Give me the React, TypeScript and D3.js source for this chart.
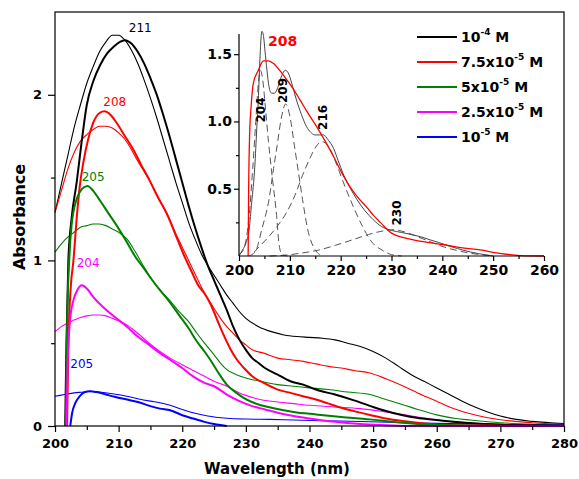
import React from 'react';
import * as d3 from 'd3';

type Pt = [number, number];

// measured spectra (thick) and smoothed spectra (thin), wavelength nm / absorbance
const black4Thick: Pt[] = [[201.6, 0], [201.8, 0.5], [202.1, 1.0], [202.6, 1.25], [203.4, 1.47], [204.2, 1.72], [205, 1.94], [206, 2.08], [207.1, 2.18], [208.2, 2.25], [209.2, 2.29], [210.2, 2.32], [211, 2.33], [212, 2.31], [213, 2.26], [214, 2.19], [215, 2.1], [216, 2.0], [217, 1.88], [218, 1.75], [219, 1.61], [220, 1.47], [221, 1.33], [222, 1.2], [223, 1.08], [224, 0.97], [225, 0.88], [226, 0.79], [227, 0.7], [228, 0.6], [229, 0.52], [230, 0.46], [231, 0.41], [232, 0.38], [233, 0.35], [235, 0.31], [237, 0.27], [239, 0.25], [241, 0.22], [244, 0.19], [247, 0.155], [250, 0.115], [253, 0.08], [256, 0.055], [260, 0.036], [265, 0.018], [270, 0.008], [275, 0.004], [280, 0.002]];
const black4Thin: Pt[] = [[200, 1.29], [201, 1.46], [202, 1.63], [203, 1.8], [204, 1.94], [205, 2.07], [206, 2.17], [207, 2.26], [208, 2.32], [209, 2.36], [210, 2.36], [211, 2.33], [212, 2.27], [213, 2.19], [214, 2.09], [215, 1.98], [216, 1.86], [217, 1.73], [218, 1.6], [219, 1.47], [220, 1.35], [221, 1.23], [222, 1.13], [223, 1.04], [224, 0.97], [225, 0.91], [226, 0.85], [227, 0.79], [228, 0.74], [229, 0.69], [230, 0.65], [232, 0.6], [234, 0.57], [236, 0.55], [238, 0.54], [240, 0.535], [242, 0.53], [244, 0.52], [246, 0.5], [248, 0.48], [250, 0.45], [252, 0.41], [254, 0.36], [256, 0.31], [258, 0.27], [260, 0.23], [262, 0.19], [264, 0.15], [266, 0.115], [268, 0.085], [270, 0.06], [272, 0.043], [275, 0.028], [280, 0.015]];

const red75Thick: Pt[] = [[201.9, 0], [202.1, 0.5], [202.5, 0.85], [202.9, 1.0], [203.4, 1.25], [203.9, 1.45], [204.5, 1.6], [205.2, 1.73], [206, 1.83], [207, 1.89], [207.8, 1.9], [208.7, 1.88], [209.7, 1.83], [211, 1.75], [212.3, 1.67], [213.5, 1.58], [214.9, 1.48], [216.2, 1.38], [217.6, 1.28], [219, 1.15], [220.4, 1.02], [221.5, 0.93], [222.5, 0.85], [223.5, 0.8], [224.4, 0.74], [225.5, 0.64], [226.5, 0.55], [227.5, 0.47], [228.6, 0.4], [229.7, 0.35], [231, 0.3], [232.8, 0.26], [235, 0.22], [237, 0.2], [239, 0.18], [241, 0.16], [243, 0.135], [245, 0.11], [247, 0.09], [249.5, 0.067], [252, 0.045], [255, 0.028], [258, 0.015], [262, 0.006], [270, 0.002], [280, 0]];
const red75Thin: Pt[] = [[200, 1.29], [201, 1.42], [202, 1.55], [203, 1.65], [204, 1.72], [205, 1.76], [206, 1.79], [207, 1.81], [208, 1.81], [209, 1.8], [210, 1.77], [211, 1.73], [212, 1.67], [213, 1.6], [214.9, 1.48], [216.2, 1.38], [217.6, 1.28], [219, 1.16], [220, 1.08], [221, 1.0], [222, 0.92], [223, 0.84], [224, 0.77], [225, 0.71], [226, 0.65], [227, 0.6], [228, 0.56], [229, 0.52], [230, 0.49], [231, 0.46], [232.8, 0.44], [235, 0.41], [237, 0.4], [239, 0.39], [241, 0.375], [243, 0.36], [245, 0.35], [247, 0.335], [249.5, 0.32], [252, 0.285], [254.8, 0.24], [257, 0.2], [260, 0.15], [262, 0.115], [265, 0.077], [268, 0.05], [270.4, 0.036], [275, 0.02], [280, 0.01]];

const green5Thick: Pt[] = [[201.7, 0], [201.9, 0.6], [202.3, 1.05], [202.6, 1.21], [203.4, 1.37], [204.2, 1.43], [205.1, 1.45], [206, 1.42], [207.1, 1.36], [208.3, 1.29], [209.7, 1.21], [211.3, 1.11], [212.5, 1.03], [214, 0.95], [215.3, 0.88], [216.5, 0.82], [218, 0.75], [219.5, 0.67], [221, 0.59], [222.3, 0.51], [223.5, 0.45], [224.4, 0.4], [225.7, 0.32], [227, 0.25], [228.5, 0.2], [230.1, 0.16], [232, 0.13], [234, 0.11], [237.5, 0.085], [241, 0.07], [245, 0.055], [249.5, 0.04], [253, 0.025], [257, 0.012], [262, 0.004], [270, 0], [280, 0]];
const green5Thin: Pt[] = [[200, 1.05], [201, 1.1], [202, 1.14], [203, 1.17], [204, 1.2], [205, 1.21], [206, 1.22], [207, 1.22], [208, 1.21], [209, 1.19], [210, 1.17], [211.3, 1.13], [212.5, 1.06], [214, 0.96], [215.3, 0.88], [216.5, 0.82], [218, 0.76], [219.5, 0.69], [221, 0.63], [222.3, 0.56], [223.5, 0.5], [225, 0.43], [226, 0.38], [227, 0.34], [228.5, 0.31], [230, 0.29], [232.2, 0.27], [235, 0.25], [237.5, 0.24], [240, 0.23], [243, 0.22], [246, 0.205], [249.5, 0.19], [252, 0.16], [254.8, 0.127], [257, 0.1], [260, 0.067], [263, 0.045], [265.3, 0.036], [270, 0.02], [275, 0.01], [280, 0.005]];

const magenta25Thick: Pt[] = [[201.8, 0], [202, 0.4], [202.4, 0.65], [202.9, 0.76], [203.5, 0.82], [204.2, 0.85], [205, 0.83], [206, 0.78], [207.5, 0.72], [209, 0.67], [211.3, 0.6], [213, 0.54], [214.8, 0.49], [216.5, 0.44], [218.1, 0.4], [220, 0.35], [221.7, 0.3], [223.5, 0.26], [225, 0.24], [227, 0.19], [229, 0.15], [231, 0.12], [233, 0.1], [235, 0.08], [237.5, 0.06], [240, 0.045], [244, 0.025], [248, 0.012], [252, 0.005], [256, 0], [280, 0]];
const magenta25Thin: Pt[] = [[200, 0.57], [201, 0.6], [202, 0.62], [203, 0.64], [204, 0.655], [205, 0.665], [206, 0.67], [207, 0.67], [208, 0.665], [209, 0.65], [210, 0.635], [211.3, 0.61], [213, 0.56], [214.8, 0.5], [216.5, 0.45], [218.1, 0.41], [220, 0.37], [221.7, 0.335], [223.5, 0.3], [225, 0.27], [227, 0.24], [229, 0.2], [230, 0.185], [232.2, 0.16], [235, 0.145], [237.5, 0.135], [240, 0.125], [244, 0.115], [248, 0.105], [252, 0.085], [255, 0.068], [258, 0.048], [260, 0.036], [265, 0.02], [270, 0.01], [280, 0.004]];

const blue1Thick: Pt[] = [[202.4, 0], [202.7, 0.08], [203.2, 0.14], [203.9, 0.18], [204.7, 0.205], [205.5, 0.21], [206.5, 0.205], [208, 0.19], [209.5, 0.175], [211.3, 0.16], [213, 0.145], [215, 0.12], [216.5, 0.105], [218.1, 0.095], [220, 0.065], [221.7, 0.045], [223.5, 0.025], [225, 0.012], [226.5, 0.003], [227, 0]];
const blue1Thin: Pt[] = [[200, 0.18], [201.5, 0.19], [203, 0.2], [204.5, 0.205], [205.5, 0.21], [207, 0.205], [209, 0.195], [211.3, 0.18], [213, 0.165], [215, 0.15], [216.5, 0.14], [218.1, 0.125], [220, 0.1], [221.7, 0.08], [224, 0.06], [227, 0.047], [230, 0.042], [233.8, 0.04], [237.5, 0.036], [242, 0.032], [249.5, 0.026], [255, 0.02], [260, 0.016], [265, 0.013], [270, 0.01], [275, 0.008], [280, 0.006]];

// inset: 7.5x10^-5 M spectrum, its envelope and the fitted bands
const insetEnvelope: Pt[] = [[200, 0], [200.7, 0.045], [201.4, 0.1], [202, 0.2], [202.5, 0.4], [203.1, 0.66], [203.5, 0.95], [203.8, 1.16], [204.1, 1.45], [204.5, 1.67], [204.8, 1.64], [205.1, 1.53], [205.5, 1.38], [205.9, 1.26], [206.4, 1.21], [207, 1.21], [207.7, 1.26], [208.4, 1.34], [209.1, 1.38], [209.7, 1.36], [210.4, 1.28], [211.3, 1.16], [212.3, 1.05], [213.3, 0.96], [214.1, 0.92], [214.9, 0.9], [215.8, 0.9], [216.6, 0.9], [217.6, 0.86], [218.6, 0.8], [219.5, 0.71], [220.5, 0.61], [221.8, 0.51], [223.2, 0.42], [224.7, 0.34], [226.4, 0.27], [228, 0.22], [230, 0.19], [232, 0.175], [234.3, 0.156], [236, 0.14], [237.6, 0.12], [239.3, 0.1], [240.9, 0.08], [243, 0.055], [245.5, 0.03], [248.8, 0.007], [250, 0]];
const insetSpectrum: Pt[] = [[201.8, 0], [201.9, 0.5], [202.1, 0.91], [202.4, 1.12], [202.8, 1.28], [203.8, 1.38], [204.8, 1.45], [205.8, 1.45], [206.8, 1.43], [208, 1.38], [209.4, 1.31], [210.7, 1.24], [212, 1.16], [213.6, 1.06], [215.3, 0.96], [217, 0.85], [218.6, 0.74], [220.2, 0.62], [221.9, 0.51], [223.5, 0.43], [225.2, 0.36], [226.5, 0.3], [227.8, 0.25], [230, 0.17], [232, 0.14], [234.3, 0.12], [237.5, 0.1], [240.9, 0.08], [244, 0.06], [247.4, 0.045], [251, 0.022], [255.3, 0.003], [260, 0]];
const band204: Pt[] = [[200, 0.01], [201, 0.06], [202, 0.3], [202.7, 0.65], [203.3, 1.0], [203.8, 1.28], [204.2, 1.38], [204.7, 1.3], [205.2, 1.1], [205.8, 0.85], [206.5, 0.6], [207.4, 0.3], [207.9, 0.08], [208.5, 0.01], [209.5, 0]];
const band209: Pt[] = [[202, 0], [203.3, 0.04], [204.5, 0.2], [205.9, 0.42], [206.8, 0.65], [207.5, 0.82], [208.3, 1.02], [209.2, 1.13], [210.1, 1.02], [210.9, 0.82], [211.7, 0.62], [212.5, 0.42], [213.5, 0.2], [215.1, 0.04], [216.5, 0]];
const band216: Pt[] = [[203, 0.03], [204, 0.07], [206, 0.15], [207.5, 0.22], [209.3, 0.32], [211, 0.45], [212.5, 0.6], [214, 0.73], [215.1, 0.81], [216.3, 0.85], [217.5, 0.82], [219, 0.7], [220.4, 0.56], [222, 0.41], [224.3, 0.22], [226, 0.11], [228.3, 0.04], [230, 0.01], [232, 0]];
const band230: Pt[] = [[206, 0], [209.3, 0.007], [212, 0.02], [215.8, 0.045], [219, 0.08], [222.3, 0.12], [225.5, 0.16], [228.9, 0.19], [230.5, 0.195], [232.5, 0.18], [235, 0.145], [237.6, 0.106], [240.5, 0.065], [243, 0.04], [245.5, 0.02], [248, 0.008], [250, 0]];

const xTicks = [200, 210, 220, 230, 240, 250, 260, 270, 280];
const xMinor = [205, 215, 225, 235, 245, 255, 265, 275];
const yTicks = [0, 1, 2];
const yMinor = [0.5, 1.5];
const insetXTicks = [200, 210, 220, 230, 240, 250, 260];
const insetXMinor = [205, 215, 225, 235, 245, 255];
const insetYTicks = [0.5, 1.0, 1.5];
const insetYMinor = [0.25, 0.75, 1.25];

const legendBase = ['10', '7.5x10', '5x10', '2.5x10', '10'];
const legendExp = ['-4', '-5', '-5', '-5', '-5'];
const colors = ['#000000', '#ff0000', '#008000', '#ff00ff', '#0000ff'];

const peakLabels = ['211', '208', '205', '204', '205'];
const peakAt: Pt[] = [[213.4, 2.38], [209.4, 1.93], [206, 1.48], [205.2, 0.96], [204.2, 0.35]];
const bandLabels = ['204', '209', '216', '230'];
const bandAt: Pt[] = [[204.3, 1.085], [208.7, 1.23], [216.5, 1.03], [231.1, 0.32]];

const font = 'DejaVu Sans, Verdana, sans-serif';

const App = () => {
  const ref = React.useRef<SVGSVGElement>(null);

  React.useEffect(() => {
    const svg = d3.select(ref.current);
    svg.selectAll('*').remove();

    const x = d3.scaleLinear().domain([200, 280]).range([55, 564]);
    const y = d3.scaleLinear().domain([0, 2.5]).range([426, 12]);

    const line = d3
      .line<Pt>()
      .x((d) => x(d[0]))
      .y((d) => y(d[1]))
      .curve(d3.curveMonotoneX);

    const thin = [black4Thin, red75Thin, green5Thin, magenta25Thin, blue1Thin];
    const thick = [black4Thick, red75Thick, green5Thick, magenta25Thick, blue1Thick];

    const curves = svg.append('g').attr('fill', 'none');
    thin.forEach((s, i) => {
      curves.append('path').attr('d', line(s)).attr('stroke', colors[i]).attr('stroke-width', 1.1);
    });
    thick.forEach((s, i) => {
      curves.append('path').attr('d', line(s)).attr('stroke', colors[i]).attr('stroke-width', 2);
    });

    // frame
    svg
      .append('rect')
      .attr('x', 55)
      .attr('y', 12)
      .attr('width', 509)
      .attr('height', 414)
      .attr('fill', 'none')
      .attr('stroke', '#000')
      .attr('stroke-width', 1.2);

    const styleAxis = (g: any, size: number) => {
      g.attr('font-family', font).attr('font-size', size).attr('font-weight', 'bold');
      g.select('.domain').remove();
      g.selectAll('line').attr('stroke', '#000').attr('stroke-width', 1.2);
      g.selectAll('text').attr('fill', '#000');
    };

    svg
      .append('g')
      .attr('transform', 'translate(0,426)')
      .call(d3.axisBottom(x).tickValues(xTicks).tickSize(6).tickPadding(7).tickFormat(d3.format('d')))
      .call((g) => styleAxis(g, 13));
    svg
      .append('g')
      .attr('transform', 'translate(0,426)')
      .call(d3.axisBottom(x).tickValues(xMinor).tickSize(4).tickFormat(() => ''))
      .call((g) => styleAxis(g, 13));
    svg
      .append('g')
      .attr('transform', 'translate(55,0)')
      .call(d3.axisLeft(y).tickValues(yTicks).tickSize(7).tickPadding(6).tickFormat(d3.format('d')))
      .call((g) => styleAxis(g, 13));
    svg
      .append('g')
      .attr('transform', 'translate(55,0)')
      .call(d3.axisLeft(y).tickValues(yMinor).tickSize(4).tickFormat(() => ''))
      .call((g) => styleAxis(g, 13));

    svg
      .append('text')
      .attr('x', 277)
      .attr('y', 474)
      .attr('text-anchor', 'middle')
      .attr('font-family', font)
      .attr('font-weight', 'bold')
      .attr('font-size', 15)
      .text('Wavelength (nm)');
    svg
      .append('text')
      .attr('transform', 'translate(25,217) rotate(-90)')
      .attr('text-anchor', 'middle')
      .attr('font-family', font)
      .attr('font-weight', 'bold')
      .attr('font-size', 16)
      .text('Absorbance');

    // peak labels
    peakLabels.forEach((t, i) => {
      svg
        .append('text')
        .attr('x', x(peakAt[i][0]))
        .attr('y', y(peakAt[i][1]))
        .attr('text-anchor', 'middle')
        .attr('font-family', font)
        .attr('font-size', 12)
        .attr('fill', colors[i])
        .text(t);
    });

    // legend
    const legend = svg.append('g').attr('font-family', font).attr('font-weight', 'bold').attr('font-size', 14);
    legendBase.forEach((b, i) => {
      const ly = 37 + i * 25;
      legend
        .append('line')
        .attr('x1', 417)
        .attr('x2', 457)
        .attr('y1', ly)
        .attr('y2', ly)
        .attr('stroke', colors[i])
        .attr('stroke-width', 2);
      const t = legend.append('text').attr('x', 461).attr('y', ly + 5);
      t.append('tspan').text(b);
      t.append('tspan').attr('dy', -7).attr('font-size', 9).text(legendExp[i]);
      t.append('tspan').attr('dy', 7).text(' M');
    });

    // inset
    const ix = d3.scaleLinear().domain([200, 260]).range([239, 544]);
    const iy = d3.scaleLinear().domain([0, 1.65]).range([256, 34]);
    const iline = d3
      .line<Pt>()
      .x((d) => ix(d[0]))
      .y((d) => iy(d[1]))
      .curve(d3.curveMonotoneX);

    const inset = svg.append('g').attr('fill', 'none');
    [band204, band209, band216, band230].forEach((b) => {
      inset
        .append('path')
        .attr('d', iline(b))
        .attr('stroke', '#555')
        .attr('stroke-width', 1)
        .attr('stroke-dasharray', '7,4');
    });
    inset.append('path').attr('d', iline(insetEnvelope)).attr('stroke', '#444').attr('stroke-width', 1);
    inset.append('path').attr('d', iline(insetSpectrum)).attr('stroke', '#ff0000').attr('stroke-width', 1.3);

    svg
      .append('g')
      .attr('transform', 'translate(0,256)')
      .call(d3.axisBottom(ix).tickValues(insetXTicks).tickSize(5).tickPadding(4).tickFormat(d3.format('d')))
      .call((g) => styleAxis(g, 14));
    svg
      .append('g')
      .attr('transform', 'translate(0,256)')
      .call(d3.axisBottom(ix).tickValues(insetXMinor).tickSize(3).tickFormat(() => ''))
      .call((g) => styleAxis(g, 14));
    svg
      .append('g')
      .attr('transform', 'translate(239,0)')
      .call(d3.axisLeft(iy).tickValues(insetYTicks).tickSize(5).tickPadding(2).tickFormat(d3.format('.1f')))
      .call((g) => styleAxis(g, 14));
    svg
      .append('g')
      .attr('transform', 'translate(239,0)')
      .call(d3.axisLeft(iy).tickValues(insetYMinor).tickSize(3).tickFormat(() => ''))
      .call((g) => styleAxis(g, 14));

    // inset axis lines
    svg.append('line').attr('x1', 239).attr('x2', 239).attr('y1', iy(1.65)).attr('y2', 256).attr('stroke', '#000').attr('stroke-width', 1.2);
    svg.append('line').attr('x1', 239).attr('x2', ix(260)).attr('y1', 256).attr('y2', 256).attr('stroke', '#000').attr('stroke-width', 1.2);

    bandLabels.forEach((t, i) => {
      svg
        .append('text')
        .attr('transform', `translate(${ix(bandAt[i][0])},${iy(bandAt[i][1])}) rotate(-90)`)
        .attr('text-anchor', 'middle')
        .attr('dominant-baseline', 'central')
        .attr('font-family', font)
        .attr('font-weight', 'bold')
        .attr('font-size', 12)
        .text(t);
    });
    svg
      .append('text')
      .attr('x', ix(205.7))
      .attr('y', iy(1.56))
      .attr('font-family', font)
      .attr('font-weight', 'bold')
      .attr('font-size', 14)
      .attr('fill', '#ff0000')
      .text('208');
  }, []);

  return (
    <svg
      ref={ref}
      width={579}
      height={479}
      style={{ position: 'absolute', left: 0, top: 0, background: '#fff' }}
    ></svg>
  );
};

export default App;
